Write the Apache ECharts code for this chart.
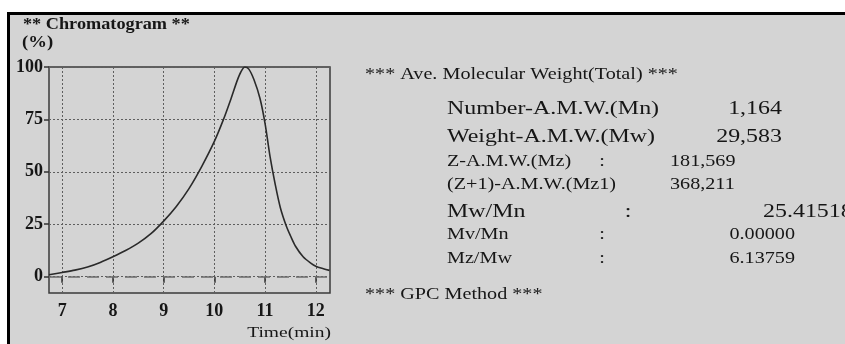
<!DOCTYPE html>
<html>
<head>
<meta charset="utf-8">
<script src="https://cdn.jsdelivr.net/npm/echarts@6/dist/echarts.min.js"></script>
<style>
  html, body { margin: 0; padding: 0; background: #fff; }
  #chart { width: 845px; height: 344px; }
</style>
</head>
<body>
<div id="chart"></div>
<script>
// retention time (min) and relative intensity (%)
const times = [6.74, 7.0, 7.25, 7.5, 7.75, 8.0, 8.25, 8.5, 8.75, 9.0, 9.25, 9.5, 9.75, 10.0,
  10.18, 10.33, 10.45, 10.52, 10.6, 10.68, 10.78, 10.9, 11.0, 11.1, 11.2, 11.3, 11.42,
  11.5, 11.6, 11.75, 11.9, 12.0, 12.15, 12.27];
const intensity = [0.9, 2, 3.1, 4.6, 6.8, 9.5, 12.5, 16, 20.5, 26.5, 33.5, 42, 52.5, 64.5,
  75, 85, 93.5, 97.5, 100, 99, 94, 85, 73, 57, 44, 33, 24,
  19.5, 14.5, 9.5, 6.5, 5, 3.8, 3];
const xTicks = [7, 8, 9, 10, 11, 12];
const yTicks = [0, 25, 50, 75, 100];

// results table: label, colon x, value, value x, value align, big font, row y
const rows = [
  ["Number-A.M.W.(Mn)", null, "1,164", 782, "right", true, 109],
  ["Weight-A.M.W.(Mw)", null, "29,583", 782, "right", true, 137],
  ["Z-A.M.W.(Mz)", 602, "181,569", 670, "left", false, 162],
  ["(Z+1)-A.M.W.(Mz1)", null, "368,211", 670, "left", false, 185],
  ["Mw/Mn", 628, "25.41518", 763, "left", true, 212],
  ["Mv/Mn", 602, "0.00000", 795, "right", false, 235],
  ["Mz/Mw", 602, "6.13759", 795, "right", false, 259]
];

const serif = "Liberation Serif";
const ink = "#161616";
const stretch = 1.26; // the scan is wider than it is tall
const chart = echarts.init(document.getElementById("chart"));

function txt(s, x, y, font, align, sx) {
  return {
    type: "text", x: x, y: y, scaleX: sx || stretch, silent: true,
    style: { text: s, font: font, fill: ink, align: align || "left", verticalAlign: "middle" }
  };
}

const graphics = [
  {
    type: "rect", z: -10, silent: true,
    shape: { x: 8.5, y: 13.5, width: 845, height: 340 },
    style: { fill: "#d4d4d4", stroke: "#000", lineWidth: 3 }
  },
  txt("** Chromatogram **", 23, 25, "bold 16px " + serif, "left", 1.14),
  txt("(%)", 22, 43, "bold 17px " + serif, "left", 1.1),
  txt("Time(min)", 331, 333, "15px " + serif, "right", 1.3),
  txt("*** Ave. Molecular Weight(Total) ***", 365, 75, "16px " + serif),
  txt("*** GPC Method ***", 365, 295, "16px " + serif)
];
rows.forEach(function (r) {
  const font = (r[5] ? "19px " : "16px ") + serif;
  graphics.push(txt(r[0], 447, r[6], font));
  if (r[1] !== null) graphics.push(txt(":", r[1], r[6], font, "center"));
  graphics.push(txt(r[2], r[3], r[6], font, r[4]));
});

const option = {
  backgroundColor: "#fff",
  animation: false,
  graphic: graphics,
  grid: {
    left: 49, right: 515, top: 67, bottom: 51,
    show: true, borderColor: "#3a3a3a", borderWidth: 1.5, backgroundColor: "transparent"
  },
  xAxis: {
    type: "value",
    min: 6.74, max: 12.28,
    minInterval: 1, maxInterval: 1,
    axisLine: { show: false },
    axisTick: { show: true, length: 6, customValues: xTicks, lineStyle: { color: "#333", width: 1.5 } },
    axisLabel: {
      customValues: xTicks, margin: 9,
      color: ink, fontFamily: serif, fontWeight: "bold", fontSize: 18
    },
    splitLine: { show: true, lineStyle: { color: "#5e5e5e", width: 1, type: [2, 2] } }
  },
  yAxis: {
    type: "value",
    min: -7.8, max: 100,
    minInterval: 25, maxInterval: 25,
    axisLine: { show: false },
    axisTick: { show: true, length: 5, customValues: yTicks, lineStyle: { color: "#333", width: 1.5 } },
    axisLabel: {
      customValues: yTicks, margin: 6,
      color: ink, fontFamily: serif, fontWeight: "bold", fontSize: 18
    },
    splitLine: { show: true, lineStyle: { color: "#5e5e5e", width: 1, type: [2, 2] } }
  },
  series: [
    {
      type: "line",
      data: times.map(function (t, i) { return [t, intensity[i]]; }),
      smooth: 0.3,
      showSymbol: false,
      lineStyle: { color: "#2a2a2a", width: 1.6 },
      markLine: {
        silent: true, symbol: "none", label: { show: false },
        lineStyle: { color: "#6a6a6a", width: 1.5, type: [12, 7] },
        data: [{ yAxis: 0 }]
      }
    }
  ]
};
chart.setOption(option);
</script>
</body>
</html>
